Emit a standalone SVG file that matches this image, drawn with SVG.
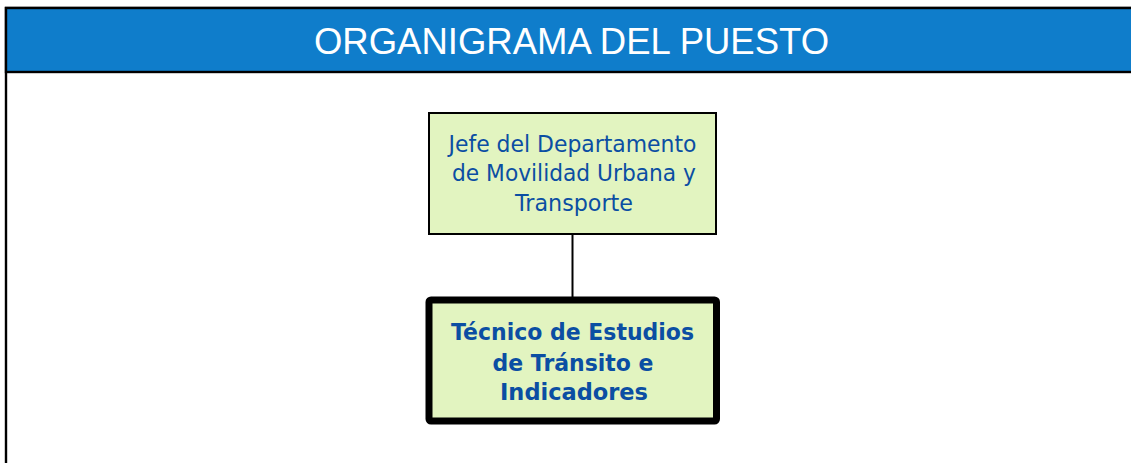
<svg xmlns="http://www.w3.org/2000/svg" width="1131" height="463" viewBox="0 0 1131 463">
<style>
.frame{fill:#ffffff;stroke:#000000;stroke-width:2.4}
.hdr{fill:#0F7DCB;stroke:#000000;stroke-width:2.4}
.title{font-family:"Liberation Sans",Arial,sans-serif;font-size:36.5px;fill:#ffffff;text-anchor:middle}
.box{fill:#E2F4C0;stroke:#000000}
.t1{font-family:"DejaVu Sans",Verdana,sans-serif;font-size:23.5px;fill:#0B4EA3;text-anchor:middle}
.t2{font-family:"DejaVu Sans",Verdana,sans-serif;font-size:23.5px;font-weight:bold;fill:#0B4EA3;text-anchor:middle}
.conn{stroke:#000000;stroke-width:2;fill:none}
</style>
<rect width="1131" height="463" fill="#ffffff"/>
<g id="frame">
<rect class="frame" x="6" y="8" width="1140" height="470"/>
<rect class="hdr" x="6" y="8" width="1140" height="64"/>
<text class="title" x="571.5" y="54">ORGANIGRAMA DEL PUESTO</text>
</g>
<g id="connectors">
<line class="conn" x1="572.5" y1="234" x2="572.5" y2="298"/>
</g>
<g id="jefe">
<rect class="box" x="429" y="113" width="287" height="121" stroke-width="2"/>
<text class="t1" x="572.5" y="151.5" textLength="248" lengthAdjust="spacingAndGlyphs">Jefe del Departamento</text>
<text class="t1" x="574" y="181" textLength="244" lengthAdjust="spacingAndGlyphs">de Movilidad Urbana y</text>
<text class="t1" x="574" y="210.5" textLength="118" lengthAdjust="spacingAndGlyphs">Transporte</text>
</g>
<g id="tecnico">
<rect class="box" x="429" y="300" width="287.5" height="121" rx="2" stroke-width="7"/>
<text class="t2" x="572.5" y="340" textLength="243" lengthAdjust="spacingAndGlyphs">Técnico de Estudios</text>
<text class="t2" x="573" y="370.5" textLength="161" lengthAdjust="spacingAndGlyphs">de Tránsito e</text>
<text class="t2" x="574" y="400" textLength="148" lengthAdjust="spacingAndGlyphs">Indicadores</text>
</g>
</svg>
